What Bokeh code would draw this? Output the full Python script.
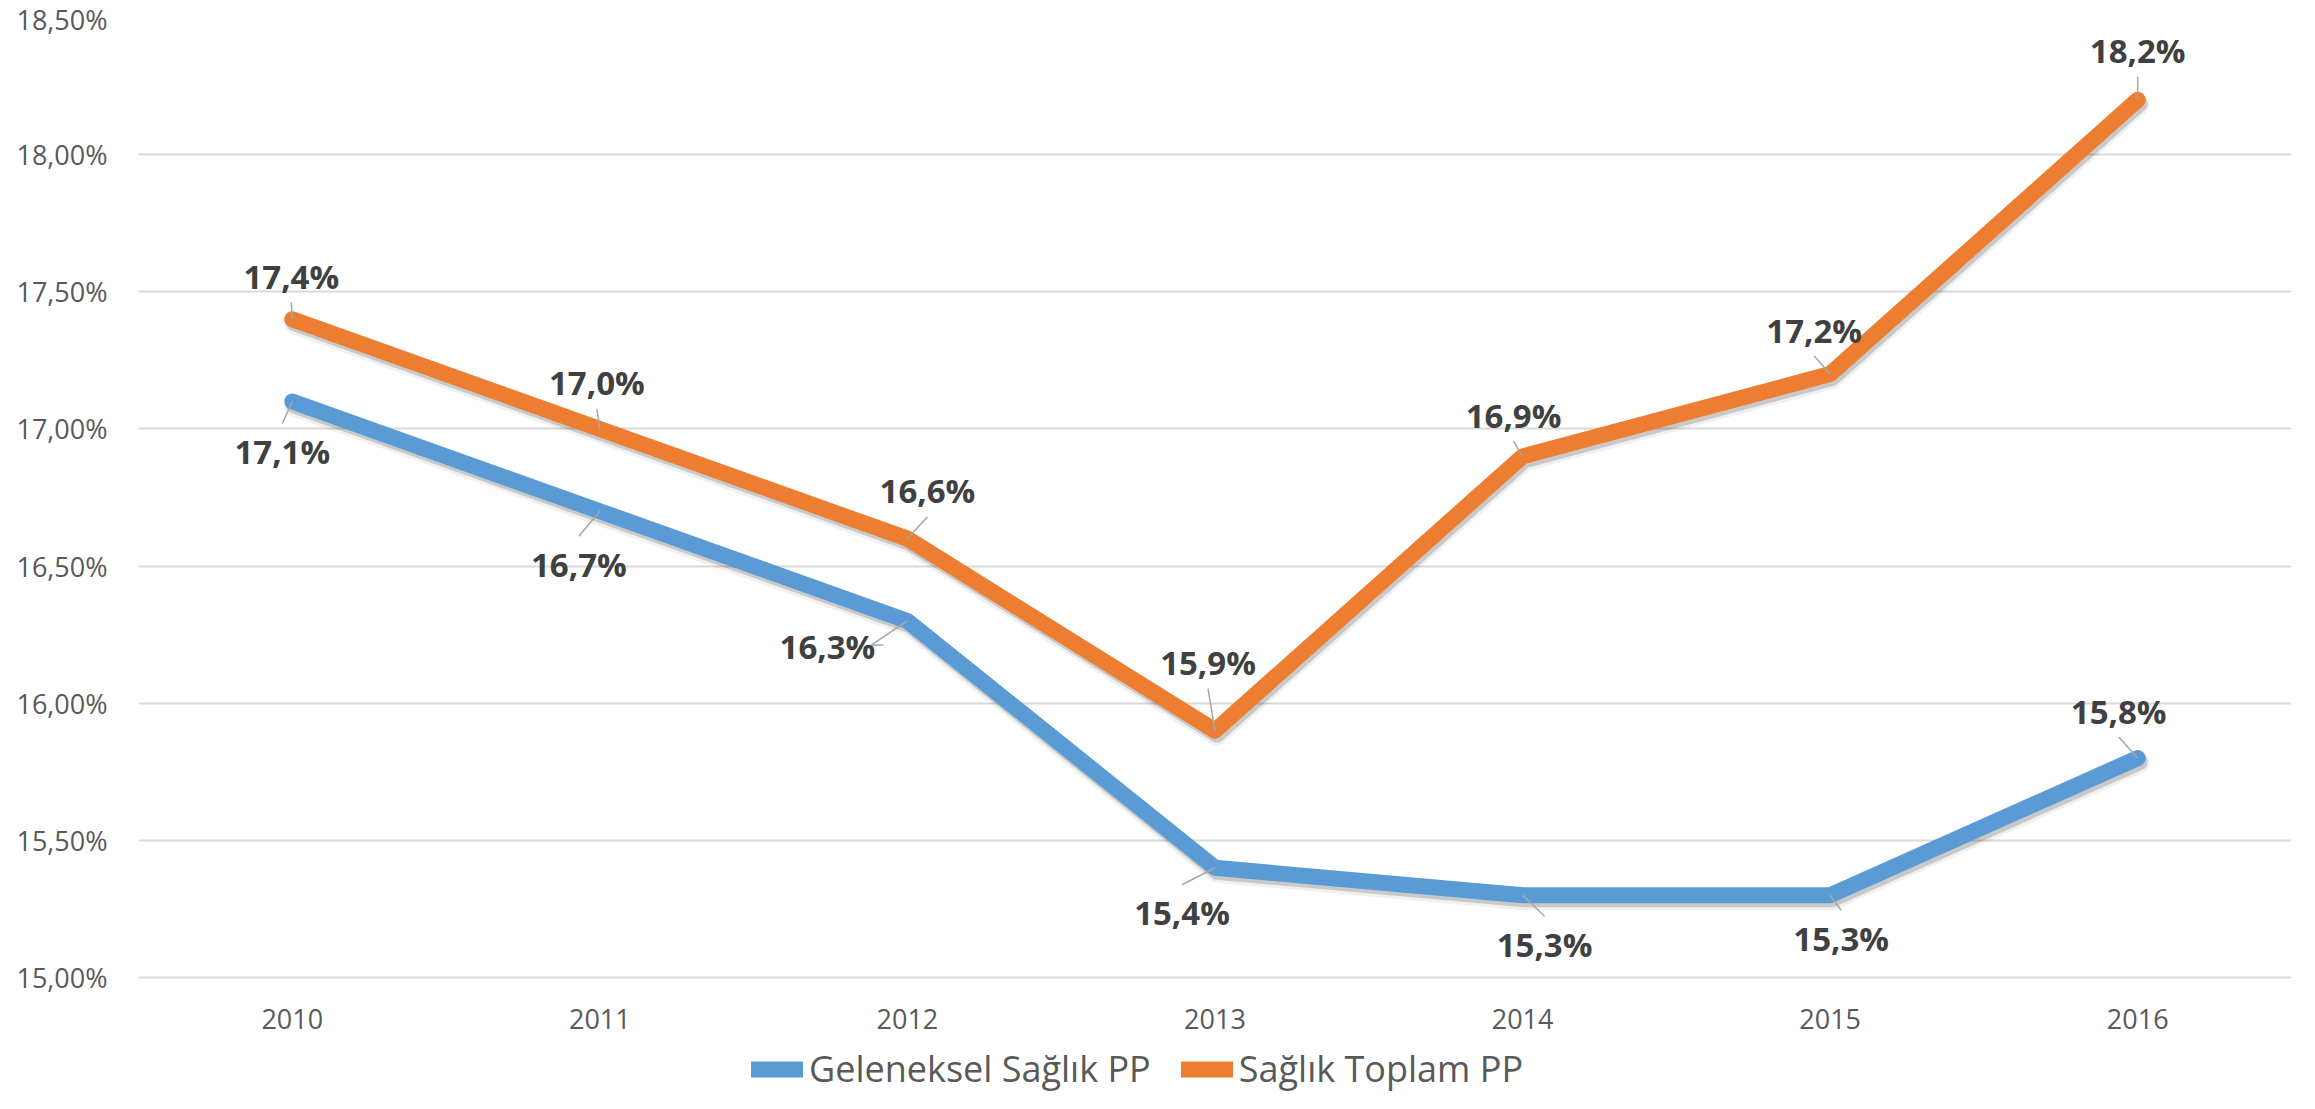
import numpy as np
from bokeh.plotting import figure
from bokeh.models import ColumnDataSource, FixedTicker, Legend, LegendItem, Range1d
from bokeh.core.properties import value
from bokeh.embed import file_html
from bokeh.resources import INLINE

# ---------------- data ----------------
years = ["2010", "2011", "2012", "2013", "2014", "2015", "2016"]
geleneksel = [17.1, 16.7, 16.3, 15.4, 15.3, 15.3, 15.8]
toplam = [17.4, 17.0, 16.6, 15.9, 16.9, 17.2, 18.2]
series_names = ["Geleneksel Sağlık PP", "Sağlık Toplam PP"]
y_ticks = [15.0, 15.5, 16.0, 16.5, 17.0, 17.5, 18.0, 18.5]
y_tick_labels = ["15,00%", "15,50%", "16,00%", "16,50%", "17,00%", "17,50%", "18,00%", "18,50%"]

# label placement (screen px, label centre relative to its point)
toplam_dx = [-1, -3, 20, -7, -9, -16, 0]
toplam_dy = [-43, -46, -48, -68, -41, -44, -49]
gel_dx = [-10, -21, -80, -33, 22, 11, -19]
gel_dy = [50, 53, 26, 45, 49, 43, -47]

BLUE = "#5B9BD5"
ORANGE = "#ED7D31"
FONT = "Open Sans"

# ---------------- geometry ----------------
W, H = 2299, 1093
LEFT, RIGHT, TOP = 138, 8, 17
PLOT_H = 960                      # pixels spanned by the value axis (15% .. 18.5%)
FW = W - LEFT - RIGHT
FH = H - TOP                      # frame runs to the bottom so the legend is inside it
X0, X1 = -0.5, len(years) - 0.5
Y1 = y_ticks[-1]
PX_X = FW / (X1 - X0)
PX_Y = PLOT_H / (y_ticks[-1] - y_ticks[0])
Y0 = Y1 - FH / PX_Y

p = figure(width=W, height=H, output_backend="svg", toolbar_location=None,
           x_range=Range1d(X0, X1), y_range=Range1d(Y0, Y1),
           min_border_left=LEFT, min_border_right=RIGHT,
           min_border_top=TOP, min_border_bottom=0)
p.outline_line_color = None
p.background_fill_color = "white"
p.border_fill_color = "white"

p.xgrid.visible = False
p.ygrid.grid_line_color = "#D9D9D9"
p.ygrid.grid_line_width = 2
p.ygrid.ticker = FixedTicker(ticks=y_ticks)

xi = list(range(len(years)))
for ax in (p.xaxis[0], p.yaxis[0]):
    ax.axis_line_color = None
    ax.major_tick_line_color = None
    ax.minor_tick_line_color = None
    ax.major_tick_out = 0
    ax.major_tick_in = 0
    ax.minor_tick_out = 0
    ax.major_label_text_font = FONT
    ax.major_label_text_font_size = "27px"
    ax.major_label_text_color = "#595959"

p.yaxis.ticker = FixedTicker(ticks=y_ticks)
p.yaxis.major_label_overrides = dict(zip(y_ticks, y_tick_labels))
p.yaxis.major_label_standoff = 31
p.xaxis.ticker = FixedTicker(ticks=xi)
p.xaxis.major_label_overrides = dict(zip(xi, years))
p.xaxis.major_label_standoff = 31
p.xaxis.fixed_location = y_ticks[0]

# ---------------- lines with soft shadow ----------------
renderers = []
for vals, col in ((geleneksel, BLUE), (toplam, ORANGE)):
    xs = np.array(xi, dtype=float)
    ys = np.array(vals, dtype=float)
    for (ox, oy, w, a) in ((2, 5, 20, 0.06), (2, 4, 16, 0.16)):
        p.line(xs + ox / PX_X, ys - oy / PX_Y, line_color="black", line_alpha=a,
               line_width=w, line_cap="round", line_join="round")
    r = p.line(xs, ys, line_color=col, line_width=16, line_cap="round", line_join="round")
    renderers.append(r)

# ---------------- leader lines ----------------
lx, ly = [], []
for vals, dxs, dys in ((geleneksel, gel_dx, gel_dy), (toplam, toplam_dx, toplam_dy)):
    for i, v in enumerate(vals):
        dx, dy = dxs[i], dys[i]
        if abs(dx) > 60:
            s = np.sign(dx)
            ex, ey = dx - s * 56, dy - 2
            pts = [(0, 0), (ex + s * 12, ey), (ex, ey)]
        else:
            ex = dx
            ey = dy + (26 if dy < 0 else -28)
            pts = [(0, 0), (ex, ey)]
        lx.append([i + px / PX_X for px, py in pts])
        ly.append([v - py / PX_Y for px, py in pts])
p.multi_line(lx, ly, line_color="#A6A6A6", line_width=1.5)

# ---------------- data labels ----------------
def fmt(v):
    return f"{v:.1f}".replace(".", ",") + "%"

for vals, dxs, dys in ((geleneksel, gel_dx, gel_dy), (toplam, toplam_dx, toplam_dy)):
    src = ColumnDataSource(dict(x=xi, y=vals, t=[fmt(v) for v in vals], dx=dxs, dy=dys))
    p.text(x="x", y="y", text="t", x_offset="dx", y_offset="dy", source=src,
           text_font=value(FONT), text_font_style="bold", text_font_size="33px",
           text_color="#404040", text_align="center", text_baseline="middle")

# ---------------- legend ----------------
legend = Legend(items=[LegendItem(label=series_names[0], renderers=[renderers[0]]),
                       LegendItem(label=series_names[1], renderers=[renderers[1]])],
                orientation="horizontal", location=(613, 0))
legend.label_text_font = FONT
legend.label_text_font_size = "36px"
legend.label_text_color = "#595959"
legend.glyph_width = 52
legend.glyph_height = 30
legend.label_height = 30
legend.label_standoff = 6
legend.spacing = 30
legend.padding = 0
legend.margin = 0
legend.border_line_color = None
legend.background_fill_alpha = 0
p.add_layout(legend)

open("out.html", "w").write(file_html(p, INLINE))
